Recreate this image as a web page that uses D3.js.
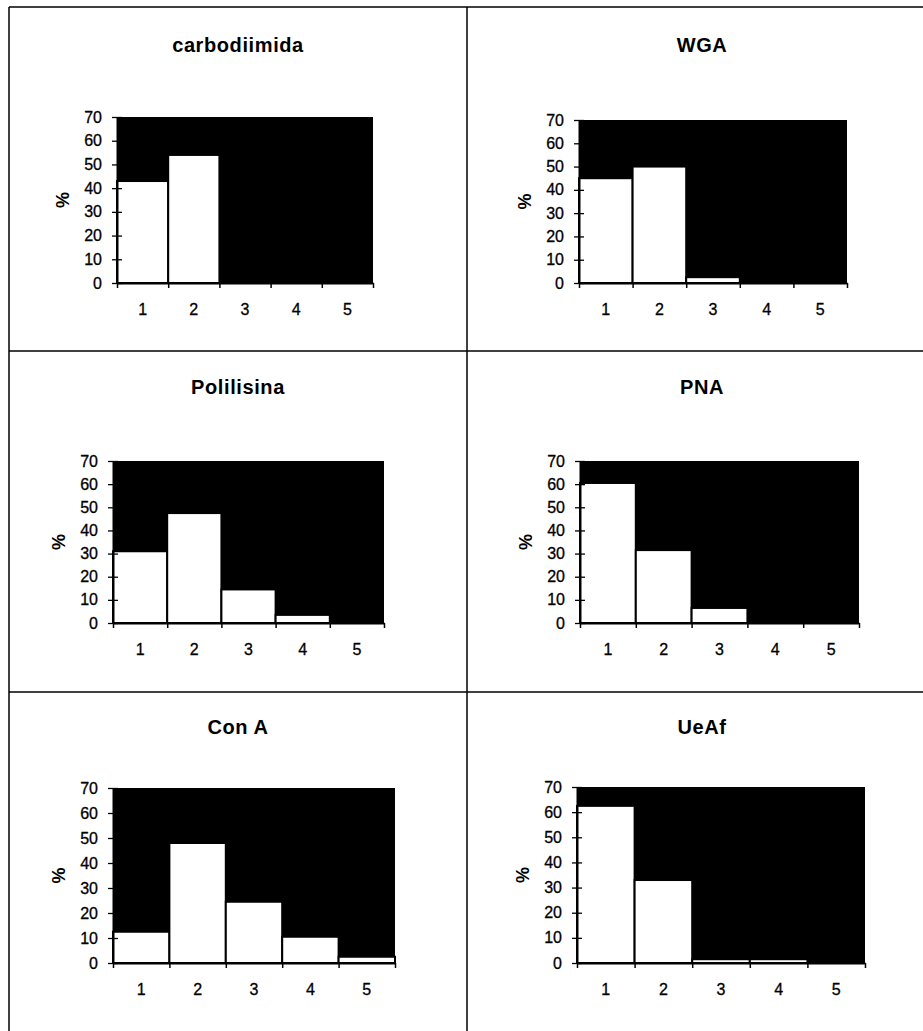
<!DOCTYPE html>
<html lang="es">
<head>
<meta charset="UTF-8">
<title>porcentajes por clase</title>
<style>
  body { margin: 0; background: #fff; }
  svg { display: block; }
  text { font-family: Arial, "Liberation Sans", sans-serif; fill: #000; }
</style>
</head>
<body>
<div id="container"></div>
<script src="https://d3js.org/d3.v7.min.js"></script>
<script>
// data
var categories = ["1", "2", "3", "4", "5"];
var titles = ["carbodiimida", "WGA", "Polilisina", "PNA", "Con A", "UeAf"];
var carbodiimida = [43, 54, 0, 0, 0];
var wga = [45, 50, 2.5, 0, 0];
var polilisina = [31, 47.5, 14.5, 3.5, 0];
var pna = [60.5, 31.5, 6.5, 0, 0];
var conA = [12.5, 48, 24.5, 10.5, 2.5];
var ueaf = [62.5, 33, 1.5, 1.5, 0];
var yTicks = [0, 10, 20, 30, 40, 50, 60, 70];
var yMax = 70;

var series = [carbodiimida, wga, polilisina, pna, conA, ueaf];

// layout of the six cells (plot area + title line)
var layout = [
  {cx: 238, ty: 45,  left: 117, right: 373, top: 117, bottom: 283},
  {cx: 702, ty: 45,  left: 579, right: 847, top: 120, bottom: 283},
  {cx: 238, ty: 387, left: 113, right: 384, top: 461, bottom: 623},
  {cx: 702, ty: 387, left: 580, right: 859, top: 461, bottom: 623},
  {cx: 238, ty: 727, left: 113, right: 395, top: 788, bottom: 963},
  {cx: 702, ty: 727, left: 577, right: 865, top: 787, bottom: 963}
];

var W = 923, H = 1031;

var svg = d3.select("#container").append("svg")
    .attr("width", W)
    .attr("height", H);

// table grid
var grid = svg.append("g").attr("stroke", "#000").attr("stroke-width", 1.5);
[7, 351, 692].forEach(function(yy) {
  grid.append("line").attr("x1", 9).attr("x2", W).attr("y1", yy).attr("y2", yy);
});
grid.append("line").attr("x1", 9).attr("x2", 9).attr("y1", 7).attr("y2", H);
grid.append("line").attr("x1", 467).attr("x2", 467).attr("y1", 7).attr("y2", H);

series.forEach(function(vals, i) {
  var L = layout[i];
  var g = svg.append("g");

  var x = d3.scaleBand().domain(categories).range([L.left, L.right]).paddingInner(0).paddingOuter(0);
  var xb = d3.scaleLinear().domain([0, categories.length]).range([L.left, L.right]);
  var y = d3.scaleLinear().domain([0, yMax]).range([L.bottom, L.top]);

  g.append("text")
      .attr("x", L.cx)
      .attr("y", L.ty)
      .attr("dy", "0.35em")
      .attr("text-anchor", "middle")
      .attr("font-size", 20)
      .attr("font-weight", "bold")
      .attr("letter-spacing", 0.6)
      .text(titles[i]);

  // black plot area
  g.append("rect")
      .attr("x", L.left)
      .attr("y", L.top)
      .attr("width", L.right - L.left)
      .attr("height", L.bottom - L.top)
      .attr("fill", "#000");

  g.append("g").selectAll("rect")
    .data(vals.map(function(v, k) { return {c: categories[k], v: v}; }).filter(function(d) { return d.v > 0; }))
    .enter().append("rect")
      .attr("x", function(d) { return x(d.c); })
      .attr("y", function(d) { return y(d.v); })
      .attr("width", x.bandwidth())
      .attr("height", function(d) { return y(0) - y(d.v); })
      .attr("fill", "#fff")
      .attr("stroke", "#000")
      .attr("stroke-width", 2);

  // y axis
  var ya = g.append("g")
      .attr("transform", "translate(" + L.left + ",0)")
      .call(d3.axisLeft(y).tickValues(yTicks).tickSize(5).tickSizeOuter(0).tickPadding(10));
  ya.select(".domain").attr("stroke", "#000").attr("stroke-width", 2);
  ya.selectAll(".tick line").attr("x1", -5).attr("x2", 5).attr("stroke", "#000").attr("stroke-width", 1.3);
  ya.selectAll(".tick text").attr("font-size", 16).attr("font-family", null)
      .attr("stroke", "#000").attr("stroke-width", 0.3);

  // x axis: ticks on category boundaries
  var xa = g.append("g")
      .attr("transform", "translate(0," + L.bottom + ")")
      .call(d3.axisBottom(xb).tickValues(d3.range(categories.length + 1)).tickFormat("").tickSize(5).tickSizeOuter(0));
  xa.select(".domain").attr("stroke", "#000").attr("stroke-width", 2);
  xa.selectAll(".tick line").attr("stroke", "#000").attr("stroke-width", 1.5);

  // x labels centred in the bands
  var xl = g.append("g")
      .attr("transform", "translate(0," + L.bottom + ")")
      .call(d3.axisBottom(x).tickSize(0).tickPadding(21));
  xl.select(".domain").remove();
  xl.selectAll(".tick text").attr("font-size", 16).attr("font-family", null)
      .attr("stroke", "#000").attr("stroke-width", 0.3);

  g.append("text")
      .attr("transform", "translate(" + (L.left - 54) + "," + ((L.top + L.bottom) / 2) + ") rotate(-90)")
      .attr("text-anchor", "middle")
      .attr("dy", "0.35em")
      .attr("font-size", 18)
      .attr("font-weight", "bold")
      .text("%");
});
</script>
</body>
</html>
